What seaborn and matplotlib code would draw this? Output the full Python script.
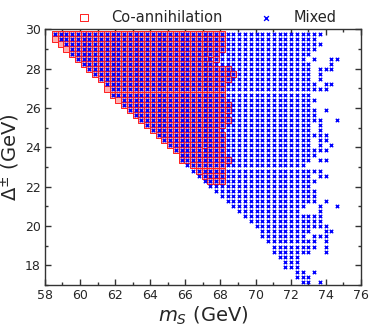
import matplotlib
matplotlib.use("Agg")
import matplotlib.pyplot as plt
import seaborn as sns
import numpy as np
import pandas as pd

# scan grid: 50 columns in m_S, 50 rows in Delta
ms_grid = np.linspace(58.57, 74.65, 50)
delta_grid = np.linspace(29.78, 17.16, 50)

# Mixed points: per row (top -> bottom) first / last column of the filled run,
# plus loose points to the right of the run
mixed_first = [0, 1, 2, 3, 3, 4, 5, 6, 7, 8, 9, 10, 10, 12, 12, 13, 14, 15, 16, 17,
               18, 19, 20, 21, 22, 22, 23, 24, 25, 26, 27, 28, 29, 30, 31, 32, 33, 34, 35, 36,
               36, 37, 38, 38, 39, 40, 40, 42, 42, 43]
mixed_last = [46, 45, 46, 45, 44, 43, 44, 44, 44, 44, 45, 45, 44, 45, 44, 45, 45, 45, 44, 44,
              45, 44, 44, 45, 45, 44, 43, 45, 44, 45, 44, 45, 45, 45, 43, 42, 46, 46, 46, 44,
              43, 45, 45, 44, 42, 42, 42, 43, 44, 44]
mixed_extra = {5: [45, 48, 49], 6: [48], 7: [46, 47, 48], 8: [46], 9: [46], 10: [47, 48],
               11: [46, 47], 15: [47], 17: [46, 49], 18: [46], 19: [46], 20: [46, 47],
               21: [46, 47], 22: [46, 48], 23: [46, 47], 25: [46, 47], 27: [46], 28: [46, 47],
               33: [47], 34: [46, 49], 35: [46], 38: [47], 39: [47, 48], 40: [45, 46, 47],
               41: [47], 42: [47], 43: [47], 47: [45], 49: [46]}

# Co-annihilation points: rows 0..29
coann_first = [0, 0, 1, 2, 3, 4, 5, 6, 7, 8, 9, 9, 10, 11, 12, 13, 14, 15, 16, 17,
               18, 19, 20, 21, 22, 22, 24, 25, 26, 27]
coann_last = [29, 29, 29, 29, 28, 28, 28, 30, 31, 30, 29, 29, 29, 29, 30, 30, 29, 30, 29, 28,
              29, 29, 29, 29, 29, 30, 29, 29, 29, 29]
coann_holes = {5: [27], 6: [28], 23: [26]}

mixed_rows = []
for r, (a, b) in enumerate(zip(mixed_first, mixed_last)):
    for c in list(range(a, b + 1)) + mixed_extra.get(r, []):
        mixed_rows.append((ms_grid[c], delta_grid[r]))
mixed = pd.DataFrame(mixed_rows, columns=["ms", "delta"])

coann_rows = []
for r, (a, b) in enumerate(zip(coann_first, coann_last)):
    for c in range(a, b + 1):
        if c in coann_holes.get(r, []):
            continue
        coann_rows.append((ms_grid[c], delta_grid[r]))
coann = pd.DataFrame(coann_rows, columns=["ms", "delta"])

sns.set_style("ticks")
fig = plt.figure(figsize=(3.74, 3.27), dpi=100)
ax = fig.add_axes([0.120, 0.128, 0.845, 0.782])

sns.scatterplot(data=coann, x="ms", y="delta", marker="s", s=15, facecolor="#ffb0b0",
                edgecolor="#ff2020", linewidth=0.7, label="Co-annihilation", ax=ax)
sns.scatterplot(data=mixed, x="ms", y="delta", marker="x", s=6, color="#0000ff",
                linewidth=1.0, label="Mixed", ax=ax)

ax.set_xlim(58, 76)
ax.set_ylim(17, 30)
ax.set_xticks(np.arange(58, 77, 2))
ax.set_xticks(np.arange(59, 76, 2), minor=True)
ax.set_yticks(np.arange(18, 31, 2))
ax.set_yticks(np.arange(17, 30, 1), minor=True)
ax.tick_params(which="both", direction="in", top=True, right=True, labelsize=9,
               color="#333333", pad=3)
ax.tick_params(which="major", length=4, width=1)
ax.tick_params(which="minor", length=2, width=1)
for sp in ax.spines.values():
    sp.set_color("#333333")
    sp.set_linewidth(1.0)

ax.set_xlabel(r"$m_S$ (GeV)", fontsize=14, labelpad=2)
ax.set_ylabel(r"$\Delta^{\pm}$ (GeV)", fontsize=14, labelpad=2)

leg = ax.legend(loc="lower center", bbox_to_anchor=(0.5, 0.985), ncol=2, frameon=False,
                fontsize=10.5, markerscale=1.4, columnspacing=2.0, handletextpad=0.85,
                borderaxespad=0.2)
leg.legend_handles[0].set_facecolor("none")

fig.savefig("out.png", dpi=100)
